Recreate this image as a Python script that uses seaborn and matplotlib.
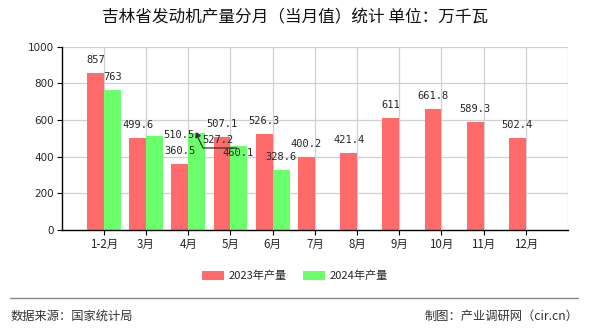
import matplotlib
matplotlib.use("Agg")
import matplotlib.pyplot as plt
import seaborn as sns
import pandas as pd
from matplotlib.patches import Patch
from matplotlib.lines import Line2D

months = ["1-2月", "3月", "4月", "5月", "6月", "7月", "8月", "9月", "10月", "11月", "12月"]
prod_2023 = [857, 499.6, 360.5, 507.1, 526.3, 400.2, 421.4, 611, 661.8, 589.3, 502.4]
prod_2024 = [763, 510.5, 527.2, 460.1, 328.6]
series = ["2023年产量", "2024年产量"]
colors = ["#FF6B6B", "#6BFF6B"]
yticks = [0, 200, 400, 600, 800, 1000]

rows = []
for m, v in zip(months, prod_2023):
    rows.append({"month": m, "series": series[0], "value": v})
for m, v in zip(months, prod_2024):
    rows.append({"month": m, "series": series[1], "value": v})
df = pd.DataFrame(rows)

sns.set_theme(style="white")
plt.rcParams["font.family"] = ["Noto Sans CJK SC", "DejaVu Sans"]

fig = plt.figure(figsize=(5.9, 3.3), dpi=100)
ax = fig.add_axes([0.1046, 0.303, 0.8581, 0.5555])

sns.barplot(data=df, x="month", y="value", hue="series", order=months,
            hue_order=series, palette=colors, width=0.8, saturation=1,
            errorbar=None, ax=ax, legend=False, zorder=3)

for p in ax.patches:
    p.set_edgecolor("none")

ax.set_xlim(-1, len(months))
ax.set_ylim(0, 1000)
ax.set_yticks(yticks)
ax.set_yticklabels([str(t) for t in yticks], fontsize=7.5, family=["DejaVu Sans"])
ax.set_xticks(range(len(months)))
ax.set_xticklabels(months, fontsize=8.3)
ax.set_xlabel("")
ax.set_ylabel("")

# grid
for t in yticks[1:]:
    ax.axhline(t, color="#d0d0d0", lw=0.9, zorder=1)
for i in range(len(months) + 1):
    ax.axvline(i, color="#d0d0d0", lw=0.9, zorder=1)

for s in ["top", "right"]:
    ax.spines[s].set_visible(False)
for s in ["left", "bottom"]:
    ax.spines[s].set_color("black")
    ax.spines[s].set_linewidth(1.0)
    ax.spines[s].set_zorder(4)
ax.tick_params(axis="both", which="both", direction="out", length=3.5, width=0.8,
               color="black", pad=2, left=True, bottom=True)

# data labels (offsets in px)
PX = 0.72
lab_font = dict(fontsize=7.5, family=["DejaVu Sans Mono"], ha="center", va="center", zorder=6)
for i, v in enumerate(prod_2023):
    ax.annotate(f"{v:g}", xy=(i - 0.2, v), xytext=(0, 13 * PX),
                textcoords="offset points", **lab_font)
shift_2024 = {1: (24, 1), 2: (21, -7), 3: (-1, -7)}
for i, v in enumerate(prod_2024):
    dx, dy = shift_2024.get(i, (0, 13))
    ax.annotate(f"{v:g}", xy=(i + 0.2, v), xytext=(dx * PX, dy * PX),
                textcoords="offset points", **lab_font)

# leader line for April 2024 label
i4, v4 = 2, prod_2024[2]
ypx = 1000 / 183.3
ax.plot([i4 + 0.2, i4 + 0.35, i4 + 1.15],
        [v4 - 1.5 * ypx, v4 - 14.6 * ypx, v4 - 14.6 * ypx],
        color="#333333", lw=0.9, zorder=7)
ax.plot([i4 + 0.2], [v4 - 1.5 * ypx], marker=(3, 0, 25), color="#333333",
        markersize=4, zorder=7)

# title
fig.text(0.5, 1 - 18 / 330, "吉林省发动机产量分月（当月值）统计 单位：万千瓦",
         ha="center", va="center", fontsize=12, color="#111111")

# legend
handles = [Patch(facecolor=c, edgecolor="none") for c in colors]
fig.legend(handles, series, loc="center", bbox_to_anchor=(0.5, 1 - 276 / 330),
           ncol=2, frameon=False, fontsize=8, handlelength=2.0, handleheight=0.9,
           columnspacing=1.5, handletextpad=0.4)

# footer
fig.add_artist(Line2D([10 / 590, 578 / 590], [1 - 298 / 330, 1 - 298 / 330],
                      color="#888888", lw=1.0))
fig.text(11 / 590, 1 - 316 / 330, "数据来源：国家统计局", ha="left", va="center",
         fontsize=8.8, color="#333333")
fig.text(578 / 590, 1 - 316 / 330, "制图：产业调研网（cir.cn）", ha="right", va="center",
         fontsize=8.8, color="#333333")

fig.savefig("out.png", dpi=100)
